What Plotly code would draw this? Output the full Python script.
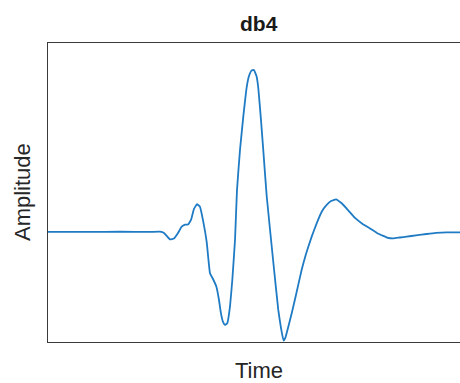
import plotly.graph_objects as go

# db4 wavelet samples (time, amplitude)
time = [0.0, 0.70, 1.20, 1.70, 1.867, 1.933, 2.033, 2.10, 2.167, 2.228, 2.283, 2.333,
        2.383, 2.433, 2.483, 2.533, 2.588, 2.645, 2.70, 2.75, 2.808, 2.85, 2.883, 2.917,
        2.95, 2.988, 3.033, 3.072, 3.117, 3.15, 3.20, 3.255, 3.312, 3.35, 3.392, 3.433,
        3.475, 3.505, 3.55, 3.588, 3.645, 3.755, 3.838, 3.883, 3.925, 3.958, 4.0, 4.067,
        4.133, 4.228, 4.30, 4.395, 4.478, 4.562, 4.645, 4.717, 4.80, 4.895, 5.0, 5.117,
        5.233, 5.367, 5.483, 5.588, 5.667, 5.755, 5.867, 5.978, 6.133, 6.312, 6.467,
        6.645, 6.867, 7.0]
amplitude = [0.0, 0.0, 0.003, 0.0, 0.002, -0.008, -0.062, -0.054, -0.008, 0.044, 0.062, 0.062,
             0.100, 0.192, 0.231, 0.211, 0.086, -0.083, -0.344, -0.392, -0.458, -0.567, -0.678, -0.75,
             -0.775, -0.761, -0.623, -0.40, -0.067, 0.35, 0.683, 0.961, 1.208, 1.300, 1.345, 1.350,
             1.300, 1.200, 0.933, 0.683, 0.30, -0.25, -0.65, -0.80, -0.905, -0.88, -0.80, -0.667,
             -0.525, -0.315, -0.183, -0.039, 0.072, 0.169, 0.225, 0.258, 0.272, 0.239, 0.183, 0.117,
             0.071, 0.029, -0.008, -0.033, -0.05, -0.054, -0.046, -0.039, -0.028, -0.017, -0.008,
             -0.003, -0.003, 0.0]

x_range = [0.0, 6.867]
y_range = [-0.917, 1.575]

fig = go.Figure()
fig.add_trace(go.Scatter(x=time, y=amplitude, mode="lines",
                         line=dict(color="#1f7bc4", width=1.8, shape="spline", smoothing=0.3),
                         hoverinfo="skip", showlegend=False))

fig.update_layout(
    width=460, height=383,
    margin=dict(l=48, r=0, t=43, b=41),
    paper_bgcolor="white", plot_bgcolor="white",
    font=dict(family="Liberation Sans, Arial, sans-serif", color="#262626"),
    xaxis=dict(range=x_range, showgrid=False, zeroline=False, showticklabels=False,
               ticks="", showline=True, linecolor="#3a3a3a", linewidth=1.2, mirror=True),
    yaxis=dict(range=y_range, showgrid=False, zeroline=False, showticklabels=False,
               ticks="", showline=True, linecolor="#3a3a3a", linewidth=1.2),
    annotations=[
        dict(text="<b>db4</b>", x=0.512, y=1.0, xref="paper", yref="paper",
             xanchor="center", yanchor="bottom", yshift=6, showarrow=False,
             font=dict(size=21, color="#1a1a1a")),
        dict(text="Time", x=0.512, y=0.0, xref="paper", yref="paper",
             xanchor="center", yanchor="top", yshift=-14, showarrow=False,
             font=dict(size=22, color="#262626")),
        dict(text="Amplitude", x=0.0, y=0.5, xref="paper", yref="paper",
             xanchor="right", yanchor="middle", xshift=-11, textangle=-90, showarrow=False,
             font=dict(size=22, color="#262626")),
    ],
)

fig.write_html("out.html")
